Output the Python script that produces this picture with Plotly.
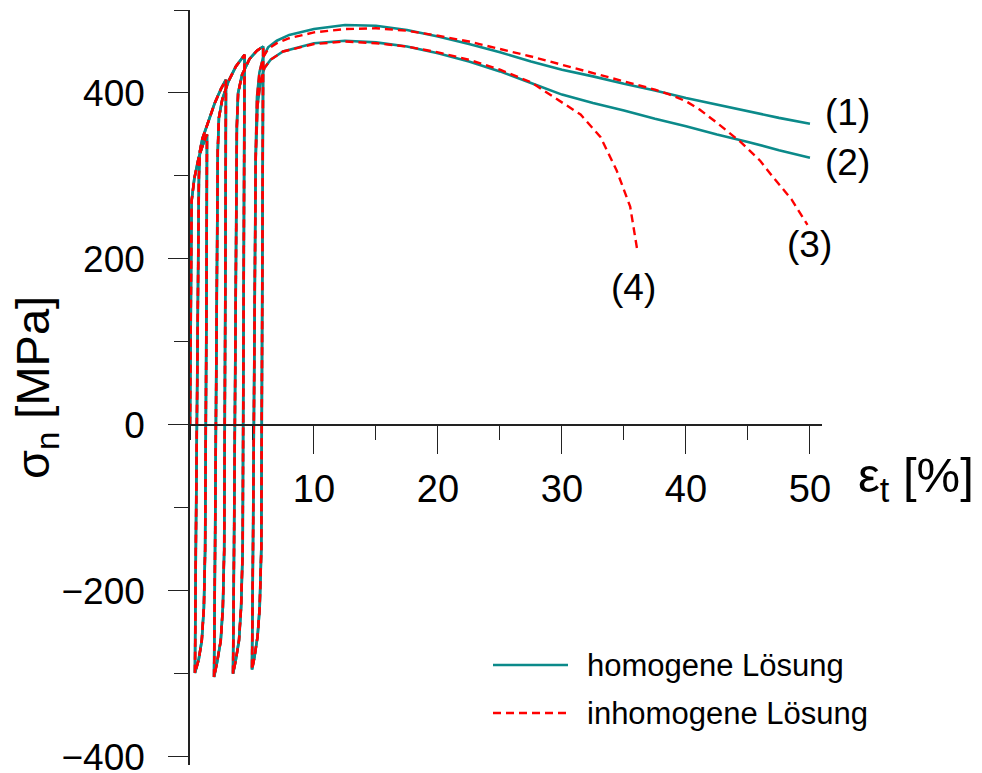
import plotly.graph_objects as go

# ---- data: nominal stress [MPa] vs. true strain [%] ----
# Strain-controlled cyclic pre-loading (shared by all four solutions)
cycle_strain = [0.0, 0.06, 0.13, 0.35, 0.70, 1.05, 1.37,
                1.33, 1.22, 1.12, 0.95, 0.70, 0.40,
                0.47, 0.60, 0.72, 0.80, 1.00, 1.40, 2.00, 2.50, 2.90,
                2.86, 2.76, 2.65, 2.48, 2.20, 1.94,
                2.02, 2.14, 2.24, 2.33, 2.60, 3.10, 3.70, 4.40,
                4.36, 4.25, 4.12, 3.95, 3.70, 3.47,
                3.55, 3.68, 3.78, 3.88, 4.20, 4.80, 5.40, 5.90,
                5.86, 5.75, 5.62, 5.45, 5.20, 5.00]
cycle_stress = [0, 200, 270, 297, 322, 338, 350,
                150, -150, -220, -260, -283, -299,
                -150, 150, 300, 330, 345, 362, 388, 405, 416,
                200, -150, -220, -260, -285, -304,
                -150, 150, 330, 370, 392, 414, 432, 446,
                250, -150, -220, -260, -283, -300,
                -150, 150, 360, 400, 422, 441, 451, 456,
                250, -150, -220, -255, -280, -295]

# Monotonic continuation after the last reversal
tail1_strain = [5.08, 5.20, 5.30, 5.40, 5.60, 5.90, 6.30, 7.0, 8.0, 10.0, 12.5, 15.0, 17.5,
                20.0, 22.5, 25.0, 27.5, 30.0, 32.5, 35.0, 37.5, 40.0, 42.5, 45.0, 47.5, 50.0]
tail1_stress = [-150, 150, 330, 395, 425, 443, 455, 463, 470, 477, 482, 481, 476,
                468, 459, 449, 438, 428, 420, 411, 403, 394, 386, 378, 370, 363]

tail2_strain = [5.08, 5.20, 5.30, 5.45, 5.70, 6.00, 6.50, 7.5, 10.0, 12.5, 15.0, 17.5,
                20.0, 22.5, 25.0, 27.5, 30.0, 32.5, 35.0, 37.5, 40.0, 42.5, 45.0, 47.5, 50.0]
tail2_stress = [-150, 150, 320, 385, 415, 430, 440, 450, 460, 463, 461, 456,
                448, 438, 426, 412, 398, 388, 379, 369, 360, 350, 341, 331, 322]

tail3_strain = [5.08, 5.20, 5.30, 5.40, 5.60, 5.90, 6.30, 7.0, 8.0, 10.0, 12.5, 15.0, 17.5,
                20.0, 22.5, 25.0, 27.5, 30.0, 32.5, 35.0, 37.5, 38.7, 40.0, 41.1, 42.5,
                44.4, 46.0, 47.0, 48.5, 49.8]
tail3_stress = [-150, 150, 330, 395, 425, 443, 453, 460, 466, 473, 477, 478, 475,
                469, 462, 453, 444, 434, 424, 414, 404, 398, 390, 380, 364,
                341, 318, 299, 272, 241]

tail4_strain = [5.08, 5.20, 5.30, 5.45, 5.70, 6.00, 6.50, 7.5, 10.0, 12.5, 15.0, 17.5,
                20.0, 22.5, 25.0, 27.5, 29.8, 31.5, 33.1, 34.4, 35.5, 36.1]
tail4_stress = [-150, 150, 320, 385, 415, 430, 440, 450, 459, 462, 460, 456,
                449, 440, 428, 413, 390, 374, 347, 307, 263, 208]

curve_labels = ["(1)", "(2)", "(3)", "(4)"]
label_strain = [53.0, 53.0, 50.0, 35.8]
label_stress = [377, 316, 217, 165]

legend_names = ["homogene Lösung", "inhomogene Lösung"]

x_ticks = [10, 20, 30, 40, 50]
y_ticks = [-400, -200, 0, 200, 400]

TEAL = "#0b8a8a"
RED = "#ff0000"
DASH = "8px,5px"
FONT = "Liberation Sans, Arial, sans-serif"

y_min, y_max = -410, 500
x_min, x_max = 0, 50.97

fig = go.Figure()

homogeneous = [(tail1_strain, tail1_stress), (tail2_strain, tail2_stress)]
inhomogeneous = [(tail3_strain, tail3_stress), (tail4_strain, tail4_stress)]

for xs, ys in homogeneous:
    fig.add_trace(go.Scatter(x=cycle_strain + xs, y=cycle_stress + ys, mode="lines",
                             line=dict(color=TEAL, width=2.6), showlegend=False,
                             cliponaxis=False))
for xs, ys in inhomogeneous:
    fig.add_trace(go.Scatter(x=cycle_strain + xs, y=cycle_stress + ys, mode="lines",
                             line=dict(color=RED, width=2.4, dash=DASH), showlegend=False,
                             cliponaxis=False))


def data_to_paper(xv, yv):
    """Map data values to paper fractions (labels may sit right of the x range)."""
    return (xv - x_min) / (x_max - x_min), (yv - y_min) / (y_max - y_min)


# curve numbers
for txt, xv, yv in zip(curve_labels, label_strain, label_stress):
    px, py = data_to_paper(xv, yv)
    fig.add_annotation(xref="paper", yref="paper", x=px, y=py, text=txt, showarrow=False,
                       xanchor="center", yanchor="middle",
                       font=dict(size=37, color="black", family=FONT))

# legend drawn in plot coordinates (paper fractions)
W, H = 632, 755  # plot area in px


def px_to_paper(px, py):
    return (px - 190) / W, (765 - py) / H


for i, (name, color, dash) in enumerate(zip(legend_names, [TEAL, RED], ["solid", DASH])):
    yy = 665 + 48 * i
    x0, y0 = px_to_paper(493, yy)
    x1, _ = px_to_paper(568, yy)
    fig.add_shape(type="line", xref="paper", yref="paper", x0=x0, x1=x1, y0=y0, y1=y0,
                  line=dict(color=color, width=2.6, dash=dash))
    tx, ty = px_to_paper(585, yy)
    fig.add_annotation(xref="paper", yref="paper", x=tx, y=ty, text=name, showarrow=False,
                       xanchor="left", yanchor="middle",
                       font=dict(size=31, color="black", family=FONT))

# axis titles
ax, ay = px_to_paper(36, 388)
fig.add_annotation(xref="paper", yref="paper", x=ax, y=ay, text="σ<sub>n</sub> [MPa]",
                   textangle=-90, showarrow=False, xanchor="center", yanchor="middle",
                   font=dict(size=47, color="black", family=FONT))
ex, ey = px_to_paper(856, 478)
fig.add_annotation(xref="paper", yref="paper", x=ex, y=ey, text="ε<sub>t</sub> [%]",
                   showarrow=False, xanchor="left", yanchor="middle",
                   font=dict(size=49, color="black", family=FONT))

fig.update_layout(
    width=982, height=773,
    margin=dict(l=190, r=160, t=10, b=8, autoexpand=False),
    paper_bgcolor="white", plot_bgcolor="white",
    font=dict(family=FONT, color="black"),
    showlegend=False,
    xaxis=dict(range=[x_min, x_max], anchor="free", automargin=False,
               position=(0 - y_min) / (y_max - y_min),
               showgrid=False, zeroline=False, showline=True, linecolor="#222",
               linewidth=1.6, ticks="outside", ticklen=28, tickwidth=1.4, tickcolor="#222",
               tickmode="array", tickvals=x_ticks, ticktext=[str(v) for v in x_ticks],
               tickfont=dict(size=38, family=FONT), ticklabelstandoff=3,
               minor=dict(tickmode="linear", tick0=0, dtick=5, ticks="outside",
                          ticklen=14, tickwidth=1.4, tickcolor="#222")),
    yaxis=dict(range=[y_min, y_max], automargin=False, showgrid=False, zeroline=False,
               showline=True, linecolor="#222", linewidth=1.6, ticks="outside", ticklen=20,
               tickwidth=1.4, tickcolor="#222",
               tickmode="array", tickvals=y_ticks,
               ticktext=[str(v).replace("-", "\u2212") for v in y_ticks],
               tickfont=dict(size=37, family=FONT), ticklabelstandoff=16,
               ticklabeloverflow="allow",
               minor=dict(tickmode="linear", tick0=0, dtick=100, ticks="outside",
                          ticklen=14, tickwidth=1.4, tickcolor="#222")),
)

fig.write_html("out.html")
